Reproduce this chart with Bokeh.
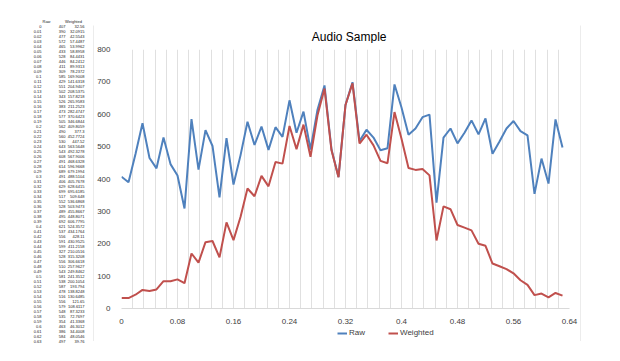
from bokeh.plotting import figure
from bokeh.models import (FixedTicker, Legend, LegendItem, Range1d, ColumnDataSource, Spacer)
from bokeh.layouts import row, column
from bokeh.core.properties import value
from bokeh.embed import file_html
from bokeh.resources import INLINE

# ---- data ----
times = [0, 0.01, 0.02, 0.03, 0.04, 0.05, 0.06, 0.07, 0.08, 0.09,
         0.1, 0.11, 0.12, 0.13, 0.14, 0.15, 0.16, 0.17, 0.18, 0.19,
         0.2, 0.21, 0.22, 0.23, 0.24, 0.25, 0.26, 0.27, 0.28, 0.29,
         0.3, 0.31, 0.32, 0.33, 0.34, 0.35, 0.36, 0.37, 0.38, 0.39,
         0.4, 0.41, 0.42, 0.43, 0.44, 0.45, 0.46, 0.47, 0.48, 0.49,
         0.5, 0.51, 0.52, 0.53, 0.54, 0.55, 0.56, 0.57, 0.58, 0.59,
         0.6, 0.61, 0.62, 0.63]
time_labels = ["0", "0.01", "0.02", "0.03", "0.04", "0.05", "0.06", "0.07", "0.08", "0.09",
               "0.1", "0.11", "0.12", "0.13", "0.14", "0.15", "0.16", "0.17", "0.18", "0.19",
               "0.2", "0.21", "0.22", "0.23", "0.24", "0.25", "0.26", "0.27", "0.28", "0.29",
               "0.3", "0.31", "0.32", "0.33", "0.34", "0.35", "0.36", "0.37", "0.38", "0.39",
               "0.4", "0.41", "0.42", "0.43", "0.44", "0.45", "0.46", "0.47", "0.48", "0.49",
               "0.5", "0.51", "0.52", "0.53", "0.54", "0.55", "0.56", "0.57", "0.58", "0.59",
               "0.6", "0.61", "0.62", "0.63"]
raw = [407, 390, 477, 572, 465, 433, 528, 446, 411, 309,
       585, 429, 551, 502, 343, 526, 383, 473, 577, 505,
       562, 490, 560, 530, 643, 543, 608, 491, 614, 689,
       491, 406, 629, 699, 517, 552, 528, 489, 495, 692,
       621, 537, 556, 591, 599, 327, 528, 556, 510, 543,
       581, 538, 587, 478, 516, 556, 579, 548, 535, 354,
       463, 386, 584, 497]
weighted = [32.56, 32.0915, 42.5543, 57.4487, 53.9962, 58.8958, 84.4431, 84.2412, 89.9313, 78.2372,
            169.9008, 141.6318, 204.9407, 208.5375, 157.8218, 265.9583, 211.2523, 282.4747, 370.6423, 346.6844,
            409.8059, 377.3, 452.7724, 447.52, 563.5648, 492.3278, 567.9006, 468.6328, 596.9668, 679.1994,
            488.5104, 405.7678, 628.6415, 695.6185, 509.648, 536.6868, 503.9473, 455.8667, 448.8071, 606.7795,
            524.3572, 434.1764, 428.11, 430.9525, 411.2158, 210.0516, 315.3208, 306.6618, 257.9627, 249.8462,
            241.3512, 200.1054, 193.794, 138.8248, 130.6485, 121.65, 108.6117, 87.3233, 72.7697, 41.3368,
            46.3012, 34.4008, 48.0546, 39.76]
x_ticks = [0, 0.08, 0.16, 0.24, 0.32, 0.4, 0.48, 0.56, 0.64]
x_tick_labels = ["0", "0.08", "0.16", "0.24", "0.32", "0.4", "0.48", "0.56", "0.64"]
y_ticks = [0, 100, 200, 300, 400, 500, 600, 700, 800]
title_text = "Audio Sample"
series_names = ["Raw", "Weighted"]

FONT = "Liberation Sans"
TXT = "#404040"
BOX = "#d9d9d9"
BLUE = "#4F81BD"
RED = "#C0504D"


def bare(w, h, color="white", xr=None, yr=None):
    f = figure(width=w, height=h, output_backend="svg", toolbar_location=None,
               x_range=xr if xr is not None else Range1d(0, max(w, 1)),
               y_range=yr if yr is not None else Range1d(0, max(h, 1)),
               x_axis_location=None, y_axis_location=None,
               min_border_left=0, min_border_right=0, min_border_top=0, min_border_bottom=0)
    f.grid.visible = False
    f.outline_line_color = None
    f.background_fill_color = color
    f.border_fill_color = color
    return f


# ---------------- table on the left ----------------
TW, TH = 85, 345
tab = bare(TW, TH, "white", Range1d(0, TW), Range1d(TH, 0))
row_y = [17.5 + i * 5.0 for i in range(len(times))]
wtxt = [("%.4f" % w).rstrip("0").rstrip(".") for w in weighted]
src = ColumnDataSource(dict(
    y=row_y * 3,
    x=[33] * len(times) + [57] * len(times) + [76] * len(times),
    t=time_labels + [str(r) for r in raw] + wtxt))
tab.text(x="x", y="y", text="t", source=src, text_align="right", text_baseline="middle",
         text_font=value(FONT), text_font_size="4px", text_color="#222222")
tab.text(x=[38, 65], y=[12.5, 12.5], text=series_names, text_align="center",
         text_baseline="middle", text_font=value(FONT), text_font_size="4px",
         text_color="#222222")

# ---------------- chart pieces ----------------
PW = 486
HEAD_H, PLOT_H, LEG_H = 18, 283, 15

head = bare(PW, HEAD_H, "white", Range1d(0, PW), Range1d(HEAD_H, 0))
head.text(x=[247], y=[11], text=[title_text], text_align="center", text_baseline="middle",
          text_font=value(FONT), text_font_size="12px", text_color="#000000")

p = figure(width=PW, height=PLOT_H, output_backend="svg", toolbar_location=None,
           x_range=Range1d(0, 0.64), y_range=Range1d(0, 800),
           min_border_left=19, min_border_right=11, min_border_top=6, min_border_bottom=15)
p.outline_line_color = None
p.border_fill_color = "white"

p.xaxis.ticker = FixedTicker(ticks=x_ticks)
p.xaxis.major_label_overrides = {t: l for t, l in zip(x_ticks, x_tick_labels)}
p.xaxis.axis_line_color = BOX
p.xaxis.major_tick_line_color = None
p.xaxis.minor_tick_line_color = None
p.xaxis.major_label_standoff = 4
p.xaxis.major_label_text_font = FONT
p.xaxis.major_label_text_font_size = "8px"
p.xaxis.major_label_text_color = TXT

p.yaxis.ticker = FixedTicker(ticks=y_ticks)
p.yaxis.axis_line_color = None
p.yaxis.major_tick_line_color = None
p.yaxis.minor_tick_line_color = None
p.yaxis.major_label_standoff = 5
p.yaxis.major_label_text_font = FONT
p.yaxis.major_label_text_font_size = "8px"
p.yaxis.major_label_text_color = TXT

grid_pos = [i * 0.016 for i in range(41)]
p.xgrid.ticker = FixedTicker(ticks=grid_pos)
p.xgrid.grid_line_color = "#e0e0e0"
p.ygrid.ticker = FixedTicker(ticks=[800])
p.ygrid.grid_line_color = "#e0e0e0"

p.line(times, raw, line_color=BLUE, line_width=2)
p.line(times, weighted, line_color=RED, line_width=2)

# legend strip under the axis (proxy renderers lie outside the strip's visible range)
leg = bare(PW, LEG_H, "white", Range1d(0, PW), Range1d(0, LEG_H))
lr1 = leg.line(x=[-50, -40], y=[-50, -40], line_color=BLUE, line_width=2)
lr2 = leg.line(x=[-50, -40], y=[-50, -40], line_color=RED, line_width=2)
legend = Legend(items=[LegendItem(label=series_names[0], renderers=[lr1]),
                       LegendItem(label=series_names[1], renderers=[lr2])],
                location=(216, 4), orientation="horizontal",
                background_fill_alpha=0, border_line_alpha=0,
                padding=0, margin=0, spacing=19, glyph_width=10, glyph_height=8,
                label_height=8, label_standoff=2,
                label_text_font=FONT, label_text_font_size="8px", label_text_color=TXT)
leg.add_layout(legend)

# light grey frame around the chart, built from 1px strips
top_line = bare(PW + 2, 1, BOX)
bottom_line = bare(PW + 2, 1, BOX)
left_line = bare(1, HEAD_H + PLOT_H + LEG_H, BOX)
right_line = bare(1, HEAD_H + PLOT_H + LEG_H, BOX)

chart = column(Spacer(width=PW + 2, height=16), top_line,
               row(left_line, column(head, p, leg), right_line), bottom_line)
layout = column(Spacer(width=10, height=8), row(Spacer(width=8, height=10), tab, chart))
open("out.html", "w").write(file_html(layout, INLINE))
